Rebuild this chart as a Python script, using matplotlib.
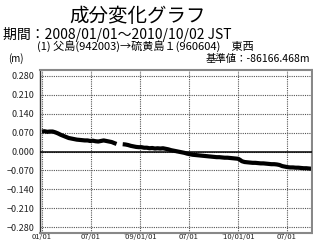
import matplotlib
matplotlib.use("Agg")
import matplotlib.pyplot as plt
import numpy as np
import pandas as pd

plt.rcParams['font.family'] = ['Noto Sans CJK JP', 'DejaVu Sans']

title = "成分変化グラフ"
period = "期間：2008/01/01～2010/10/02 JST"
subtitle = "(1) 父島(942003)→硫黄島１(960604)　東西"
unit_label = "(m)"
base_label = "基準値：-86166.468m"

dates = ["2008-01-01", "2008-01-11", "2008-01-21", "2008-01-31", "2008-02-10", "2008-02-20",
         "2008-03-01", "2008-03-11", "2008-03-21", "2008-03-31", "2008-04-10", "2008-04-20",
         "2008-04-30", "2008-05-10", "2008-05-20", "2008-05-30", "2008-06-09", "2008-06-19",
         "2008-06-29", "2008-07-09", "2008-07-19", "2008-07-29", "2008-08-08", "2008-08-18",
         "2008-08-28", "2008-09-07", "2008-09-17", "2008-09-27", "2008-10-05", "2008-10-15",
         "2008-10-28", "2008-11-07", "2008-11-17", "2008-11-27", "2008-12-07", "2008-12-17",
         "2008-12-27", "2009-01-06", "2009-01-16", "2009-01-26", "2009-02-05", "2009-02-15",
         "2009-02-25", "2009-03-07", "2009-03-17", "2009-03-27", "2009-04-06", "2009-04-16",
         "2009-04-26", "2009-05-06", "2009-05-16", "2009-05-26", "2009-06-05", "2009-06-15",
         "2009-06-25", "2009-07-05", "2009-07-15", "2009-07-25", "2009-08-04", "2009-08-14",
         "2009-08-24", "2009-09-03", "2009-09-13", "2009-09-23", "2009-10-03", "2009-10-13",
         "2009-10-23", "2009-11-02", "2009-11-12", "2009-11-22", "2009-12-02", "2009-12-12",
         "2009-12-22", "2010-01-01", "2010-01-08", "2010-01-15", "2010-01-25", "2010-02-04",
         "2010-02-14", "2010-02-24", "2010-03-06", "2010-03-16", "2010-03-26", "2010-04-05",
         "2010-04-15", "2010-04-25", "2010-05-05", "2010-05-15", "2010-05-25", "2010-06-04",
         "2010-06-14", "2010-06-24", "2010-07-04", "2010-07-14", "2010-07-24", "2010-08-03",
         "2010-08-13", "2010-08-23", "2010-09-02", "2010-09-12", "2010-09-22", "2010-10-02"]
values = [0.074, 0.075, 0.073, 0.074, 0.074, 0.071,
          0.067, 0.062, 0.058, 0.054, 0.050, 0.048,
          0.046, 0.044, 0.043, 0.042, 0.041, 0.041,
          0.039, 0.040, 0.038, 0.037, 0.039, 0.041,
          0.039, 0.037, 0.035, 0.031, 0.028, np.nan,
          0.027, 0.026, 0.024, 0.021, 0.019, 0.017,
          0.016, 0.016, 0.014, 0.014, 0.012, 0.013,
          0.011, 0.012, 0.011, 0.012, 0.010, 0.008,
          0.005, 0.003, 0.001, -0.001, -0.003, -0.005,
          -0.008, -0.010, -0.012, -0.013, -0.014, -0.015,
          -0.016, -0.017, -0.018, -0.019, -0.020, -0.021,
          -0.021, -0.022, -0.023, -0.023, -0.024, -0.025,
          -0.026, -0.027, -0.031, -0.036, -0.039, -0.040,
          -0.041, -0.042, -0.042, -0.043, -0.044, -0.044,
          -0.045, -0.046, -0.047, -0.047, -0.048, -0.050,
          -0.054, -0.056, -0.058, -0.059, -0.059, -0.060,
          -0.060, -0.061, -0.062, -0.062, -0.063, -0.064]

y_ticks = [0.280, 0.210, 0.140, 0.070, 0.000, -0.070, -0.140, -0.210, -0.280]
y_ticklabels = ["0.280", "0.210", "0.140", "0.070", "0.000", "\u22120.070", "\u22120.140", "\u22120.210", "\u22120.280"]
x_ticks = ["2008-01-01", "2008-07-01", "2009-01-01", "2009-07-01", "2010-01-01", "2010-07-01"]
x_ticklabels = ["01/01", "07/01", "'09/01/01", "07/01", "'10/01/01", "07/01"]

fig = plt.figure(figsize=(3.13, 2.42), dpi=100)
ax = fig.add_axes([40/313, 1 - 233/242, 272/313, 163/242])

x = pd.to_datetime(dates)
ax.plot(x, values, color='black', lw=3.0, solid_capstyle='butt')
ax.axhline(0, color='black', lw=1.1, zorder=3)

ax.set_xlim(pd.Timestamp("2007-12-25"), pd.Timestamp("2010-10-03"))
ax.set_ylim(-0.302, 0.302)
ax.set_yticks(y_ticks)
ax.set_yticklabels(y_ticklabels)
ax.set_xticks(pd.to_datetime(x_ticks))
ax.set_xticklabels(x_ticklabels)
ax.tick_params(axis='y', length=0, labelsize=6.5, colors='#222222', pad=4)
ax.tick_params(axis='x', length=0, labelsize=5.5, colors='#222222', pad=0)
ax.grid(True, color='#555555', lw=0.8, linestyle=(0, (1, 1)))
for s in ['top', 'right', 'bottom']:
    ax.spines[s].set_color('#888888')
    ax.spines[s].set_linewidth(1.5)
ax.spines['left'].set_color('#333333')
ax.spines['left'].set_linewidth(1.0)

fig.text(138/313, 1 - 16/242, title, ha='center', va='center', fontsize=14)
fig.text(3/313, 1 - 34/242, period, ha='left', va='center', fontsize=10)
fig.text(37/313, 1 - 46/242, subtitle, ha='left', va='center', fontsize=8)
fig.text(8/313, 1 - 59/242, unit_label, ha='left', va='center', fontsize=7)
fig.text(310/313, 1 - 59/242, base_label, ha='right', va='center', fontsize=7.5)

fig.savefig("out.png", dpi=100)
